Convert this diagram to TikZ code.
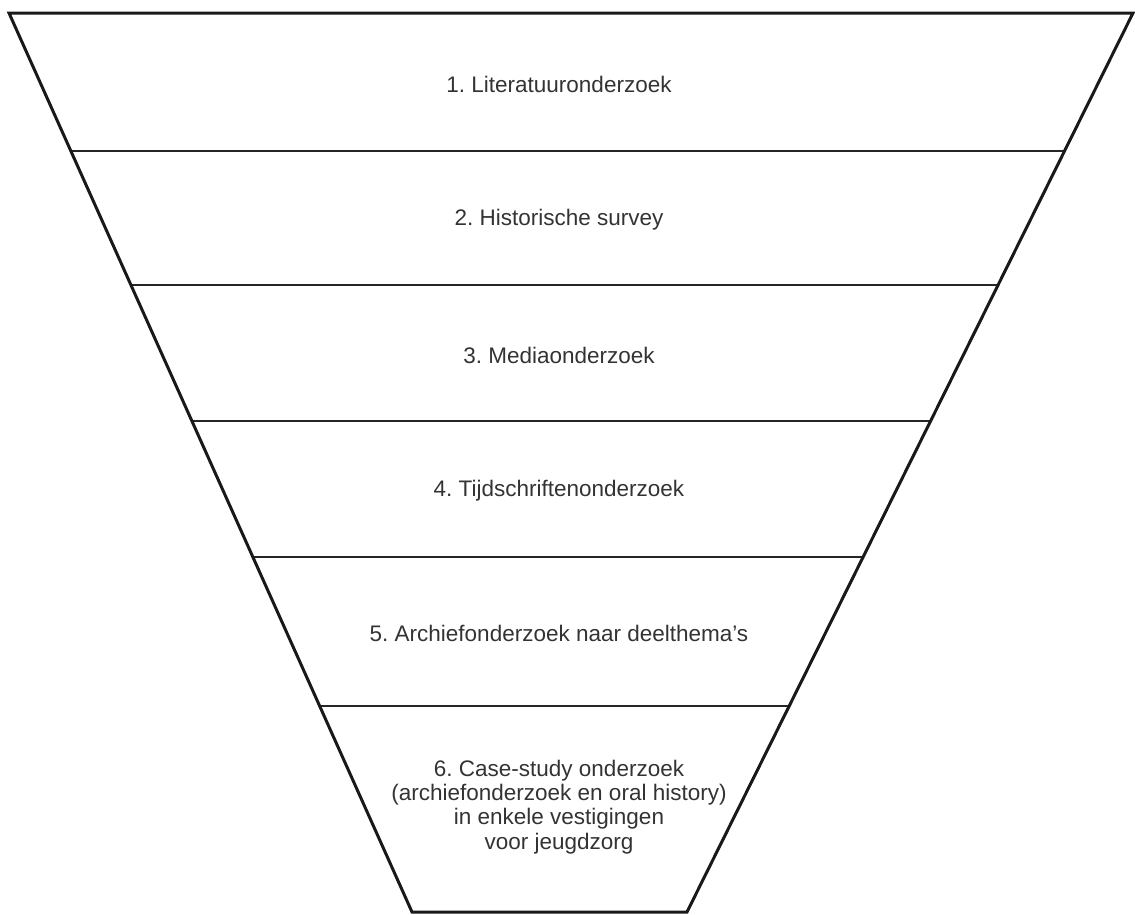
\documentclass[tikz,border=0pt]{standalone}
\usepackage{fontspec}
\setmainfont{Liberation Sans}
\frenchspacing
\usepackage{tikz}
\usetikzlibrary{calc}
\tikzstyle{band} = [text centered, align=center, font=\fontsize{22.5}{24.2}\selectfont, text=black!80]
\tikzstyle{rim} = [line width=3pt, black!90, line join=miter]
\tikzstyle{cut} = [line width=2.6pt, black!85]

\begin{document}
\begin{tikzpicture}[x=1pt,y=-1pt]
    \useasboundingbox (0,0) rectangle (1135,914);
    \coordinate (TL) at (9,13);
    \coordinate (TR) at (1133,13);
    \coordinate (BL) at (412,912);
    \coordinate (BR) at (687,912);
    \foreach \t in {0.1535,0.3026,0.4538,0.6051,0.7709}
        \draw[cut] ($(TL)!\t!(BL)$) -- ($(TR)!\t!(BR)$);
    \draw[rim] (TL) -- (TR) -- (BR) -- (BL) -- cycle;
    \node (Lit) [band] at (559,84) {1. Literatuuronderzoek};
    \node (Hist) [band] at (559,220) {2. Historische survey};
    \node (Media) [band] at (559,355) {3. Mediaonderzoek};
    \node (Tijd) [band] at (559,491) {4. Tijdschriftenonderzoek};
    \node (Arch) [band] at (559,633) {5. Archiefonderzoek naar deelthema's};
    \node (Case) [band] at (559,807) {6. Case-study onderzoek\\(archiefonderzoek en oral history)\\in enkele vestigingen\\voor jeugdzorg};
\end{tikzpicture}
\end{document}
